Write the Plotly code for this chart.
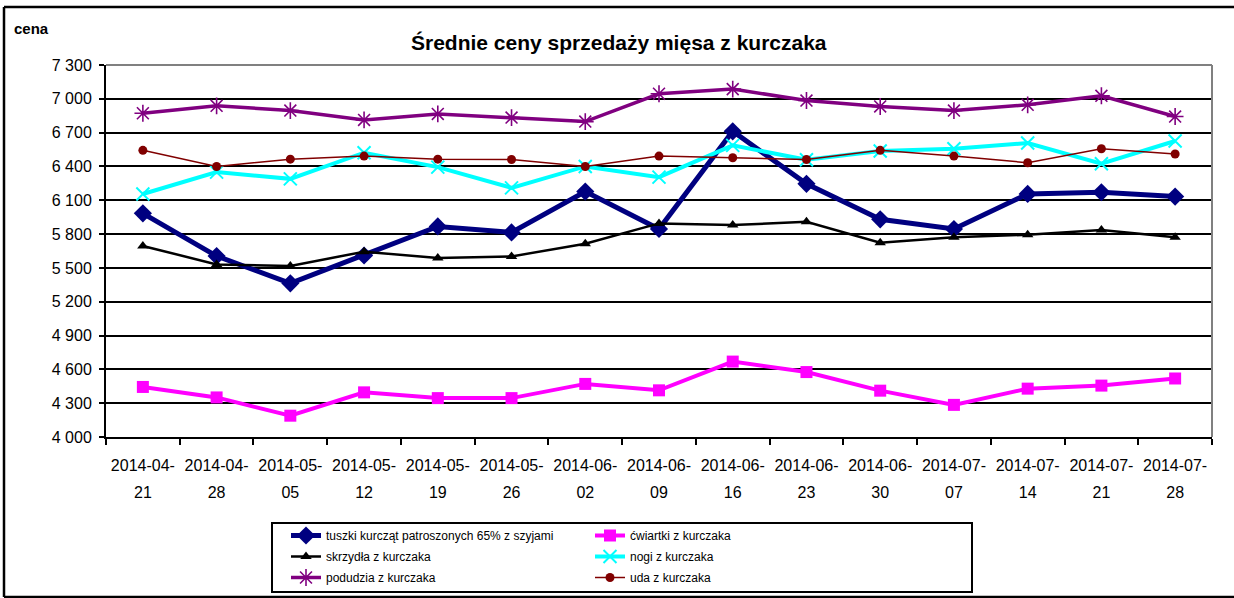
import plotly.graph_objects as go

dates = ["2014-04-21", "2014-04-28", "2014-05-05", "2014-05-12", "2014-05-19",
         "2014-05-26", "2014-06-02", "2014-06-09", "2014-06-16", "2014-06-23",
         "2014-06-30", "2014-07-07", "2014-07-14", "2014-07-21", "2014-07-28"]
label_top = [d[:8] for d in dates]      # "2014-04-"
label_bottom = [d[8:] for d in dates]   # "21"

tuszki = [5984, 5605, 5363, 5610, 5868, 5815, 6177, 5845, 6712, 6246, 5931, 5845, 6156, 6171, 6133]
cwiartki = [4444, 4351, 4189, 4396, 4345, 4345, 4471, 4414, 4669, 4576, 4411, 4285, 4429, 4456, 4519]
skrzydla = [5695, 5531, 5517, 5644, 5588, 5602, 5715, 5895, 5880, 5910, 5724, 5772, 5794, 5836, 5772]
nogi = [6156, 6350, 6290, 6522, 6394, 6210, 6400, 6305, 6587, 6459, 6537, 6557, 6608, 6424, 6626]
podudzia = [6872, 6938, 6896, 6813, 6866, 6834, 6798, 7045, 7086, 6985, 6932, 6896, 6947, 7027, 6843]
uda = [6543, 6400, 6465, 6492, 6465, 6462, 6400, 6492, 6477, 6462, 6543, 6492, 6433, 6557, 6510]

names = ["tuszki kurcząt patroszonych 65% z szyjami", "ćwiartki z kurczaka",
         "skrzydła z kurczaka", "nogi z kurczaka", "podudzia z kurczaka", "uda z kurczaka"]
y_ticks = [4000, 4300, 4600, 4900, 5200, 5500, 5800, 6100, 6400, 6700, 7000, 7300]

W, H = 1234, 598
# plot area in page pixels (body margin removed via post_script)
L, R, T, B = 106, 1212, 65, 437


def px(x):
    return (x - L) / (R - L)


def py(y):
    return (B - y) / (B - T)


FONT = "Liberation Sans, Arial, sans-serif"

fig = go.Figure()
series = [
    (tuszki, names[0], "#000080", 5, "diamond", 14, 0, "legend"),
    (cwiartki, names[1], "#FF00FF", 4, "square", 12, 0, "legend2"),
    (skrzydla, names[2], "#000000", 2.5, "triangle-up", 10, 0, "legend"),
    (nogi, names[3], "#00FFFF", 4, "x-thin-open", 13, 2, "legend2"),
    (podudzia, names[4], "#800080", 3.5, "asterisk-open", 14, 1.6, "legend"),
    (uda, names[5], "#800000", 1.5, "circle", 9, 0, "legend2"),
]
for k, (vals, nm, col, lw, sym, ms, mlw, lg) in enumerate(series):
    marker = dict(symbol=sym, size=ms, color=col)
    if mlw:
        marker["line"] = dict(color=col, width=mlw)
    fig.add_trace(go.Scatter(x=dates, y=vals, name=nm, mode="lines+markers",
                             line=dict(color=col, width=lw), marker=marker,
                             legend=lg, legendgroup=f"g{k}"))

# carrier for the second line of the category labels
fig.add_trace(go.Scatter(x=list(range(len(dates))), y=[None] * len(dates), xaxis="x2",
                         mode="lines", showlegend=False, hoverinfo="skip"))

frame = dict(color="black", width=2.5)
fig.update_layout(
    width=W, height=H,
    margin=dict(l=L, r=W - R, t=T, b=H - B, autoexpand=False),
    paper_bgcolor="white", plot_bgcolor="white",
    font=dict(family=FONT, color="black", size=16),
    separators=", ",
    xaxis=dict(type="category", categoryorder="array", categoryarray=dates,
               range=[-0.5, 14.5], tickmode="array", tickvals=dates, ticktext=label_top,
               tickson="boundaries", ticks="outside", ticklen=6, tickwidth=1.5,
               tickcolor="black", showline=True, linecolor="black", linewidth=2,
               showgrid=False, ticklabelstandoff=13, automargin=False,
               tickfont=dict(family=FONT, size=16, color="black")),
    xaxis2=dict(overlaying="x", anchor="y", side="bottom", type="linear",
                range=[-0.5, 14.5], tickmode="array",
                tickvals=list(range(len(dates))), ticktext=label_bottom,
                ticks="", showline=False, showgrid=False, zeroline=False,
                ticklabelstandoff=44, automargin=False,
                tickfont=dict(family=FONT, size=16, color="black")),
    yaxis=dict(range=[4000, 7300], tickmode="array", tickvals=y_ticks,
               tickformat=",d", ticks="outside", ticklen=5, tickwidth=1.5,
               tickcolor="black", showline=True, linecolor="black", linewidth=2,
               showgrid=True, gridcolor="black", gridwidth=1.5, zeroline=False,
               ticklabelstandoff=4, automargin=False,
               tickfont=dict(family=FONT, size=16, color="black")),
    showlegend=True,
    legend=dict(x=px(286), y=py(521), xanchor="left", yanchor="top",
                orientation="v", bgcolor="rgba(0,0,0,0)", borderwidth=0,
                font=dict(family=FONT, size=12, color="black"),
                tracegroupgap=2),
    legend2=dict(x=px(590), y=py(521), xanchor="left", yanchor="top",
                 orientation="v", bgcolor="rgba(0,0,0,0)", borderwidth=0,
                 font=dict(family=FONT, size=12, color="black"),
                 tracegroupgap=2),
    shapes=[
        # outer chart frame (right side lies outside the picture)
        dict(type="line", xref="paper", yref="paper", x0=px(4), x1=px(1234),
             y0=py(7), y1=py(7), line=frame, layer="below"),
        dict(type="line", xref="paper", yref="paper", x0=px(4), x1=px(1234),
             y0=py(597), y1=py(597), line=frame, layer="below"),
        dict(type="line", xref="paper", yref="paper", x0=px(4), x1=px(4),
             y0=py(7), y1=py(597), line=frame, layer="below"),
        # plot-area border (top, right) in grey
        dict(type="line", xref="paper", yref="paper", x0=0, x1=1, y0=1, y1=1,
             line=dict(color="#808080", width=2), layer="above"),
        dict(type="line", xref="paper", yref="paper", x0=1, x1=1, y0=0, y1=1,
             line=dict(color="#808080", width=2), layer="above"),
        # legend frame
        dict(type="rect", xref="paper", yref="paper", x0=px(272), x1=px(972),
             y0=py(592), y1=py(523), line=dict(color="black", width=2), layer="below"),
    ],
    annotations=[
        dict(text="<b>Średnie ceny sprzedaży mięsa z kurczaka</b>", xref="paper",
             yref="paper", x=px(619), y=py(42), xanchor="center", yanchor="middle",
             showarrow=False, font=dict(family=FONT, size=21, color="black")),
        dict(text="<b>cena</b>", xref="paper", yref="paper", x=px(12), y=py(28),
             xanchor="left", yanchor="middle", showarrow=False,
             font=dict(family=FONT, size=15, color="black")),
    ],
)

fig.write_html("out.html", config={"displayModeBar": False},
               post_script="document.body.style.margin='0';document.body.style.padding='0';")
